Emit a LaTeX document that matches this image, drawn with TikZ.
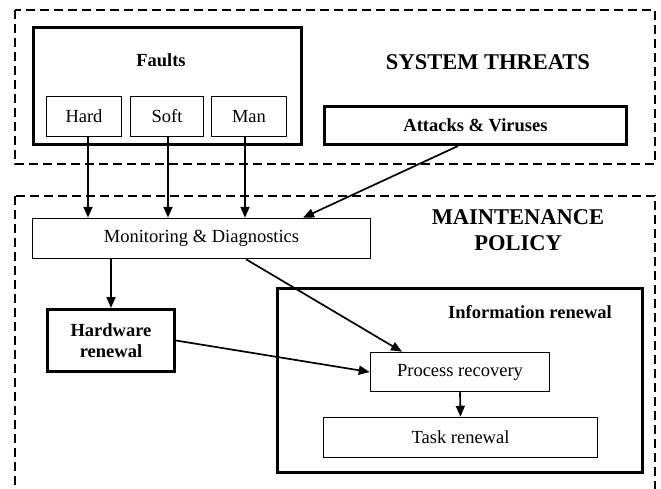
\documentclass[tikz,border=0pt]{standalone}
\usepackage{fontspec}
\setmainfont{Liberation Serif}
\usetikzlibrary{arrows.meta}
\begin{document}
\begin{tikzpicture}[x=1pt,y=-1pt,
  every node/.style={font=\fontsize{18.5}{21}\selectfont, inner sep=0pt},
  thinbox/.style={draw, line width=1.5pt, rectangle},
  thickbox/.style={draw, line width=3pt, rectangle},
  dashbox/.style={draw, line width=1.5pt, dash pattern=on 9pt off 5pt},
  arr/.style={line width=1.7pt, -{Triangle[length=11pt,width=9pt]}},
  head/.style={font=\fontsize{22.5}{26}\selectfont\bfseries, align=center},
  lbl/.style={font=\fontsize{18.5}{21}\selectfont\bfseries, align=center}]
\path[use as bounding box] (0,0) rectangle (661,488);
\clip (0,0) rectangle (661,488);
% dashed regions
\draw[dashbox] (15,10) rectangle (655,164);
\draw[dashbox] (15,196) rectangle (655,520);
% system threats
\node[thickbox, minimum width=268pt, minimum height=117pt] (faults) at (167.5,86) {};
\node[lbl] (faultslbl) at (161,60) {Faults};
\node[thinbox, minimum width=75pt, minimum height=40pt] (hard) at (84,116.5) {Hard};
\node[thinbox, minimum width=73pt, minimum height=40pt] (soft) at (167,116.5) {Soft};
\node[thinbox, minimum width=75pt, minimum height=40pt] (man) at (249,116.5) {Man};
\node[head] (st) at (488,62) {SYSTEM THREATS};
\node[thickbox, lbl, minimum width=302pt, minimum height=38pt] (att) at (475.5,125.5) {Attacks \& Viruses};
% maintenance policy
\node[head] (mp) at (518,230) {MAINTENANCE\\POLICY};
\node[thinbox, minimum width=338pt, minimum height=40pt] (mon) at (201.5,238.5) {Monitoring \& Diagnostics};
\node[thickbox, lbl, minimum width=127pt, minimum height=62pt] (hw) at (111,340.5) {Hardware\\renewal};
\node[thickbox, minimum width=365pt, minimum height=184pt] (info) at (460,380.5) {};
\node[lbl] (infolbl) at (530,312) {Information renewal};
\node[thinbox, minimum width=179pt, minimum height=39pt] (proc) at (460,372) {Process recovery};
\node[thinbox, minimum width=274pt, minimum height=40pt] (task) at (460.5,437.5) {Task renewal};
% connectors
\draw[arr] ([xshift=4pt]hard.south) -- ([xshift=4pt]hard.south |- mon.north);
\draw[arr] ([xshift=1pt]soft.south) -- ([xshift=1pt]soft.south |- mon.north);
\draw[arr] ([xshift=-4pt]man.south) -- ([xshift=-4pt]man.south |- mon.north);
\draw[arr] ([xshift=-17.5pt]att.south) -- ([xshift=101.5pt]mon.north);
\draw[arr] (hw.north |- mon.south) -- (hw.north);
\draw[arr] ([xshift=44.5pt]mon.south) -- ([xshift=-58pt]proc.north);
\draw[arr] (hw.east) -- (proc.west);
\draw[arr] (proc.south) -- (task.north);
\end{tikzpicture}
\end{document}
